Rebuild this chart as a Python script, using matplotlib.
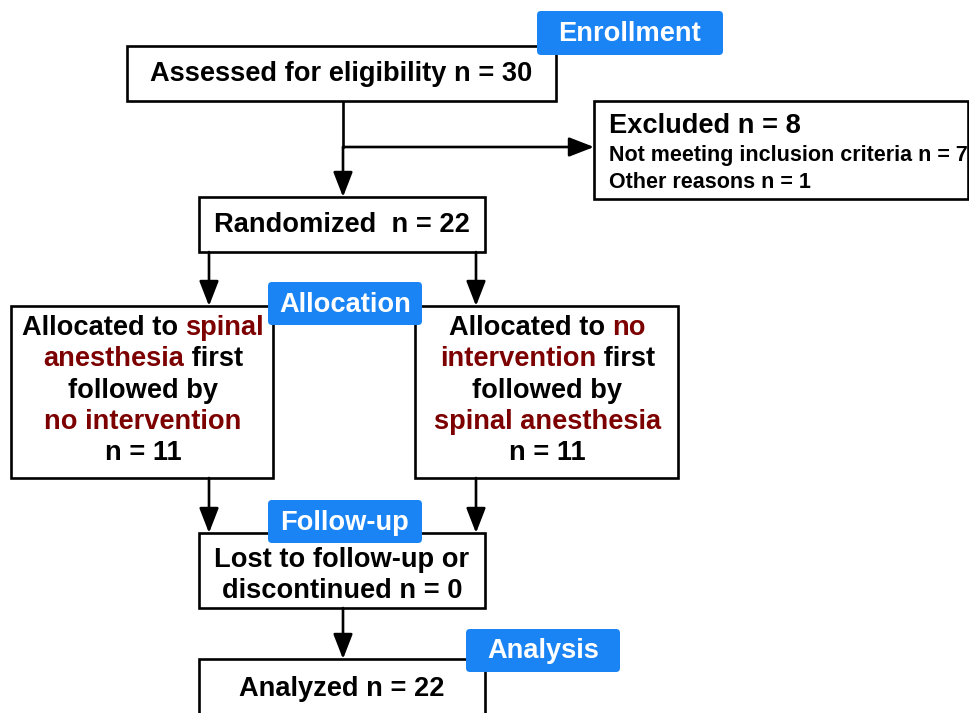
import matplotlib.pyplot as plt
from matplotlib.patches import Rectangle, FancyBboxPatch

plt.rcParams["font.family"] = ["Liberation Sans", "DejaVu Sans"]
plt.rcParams["font.weight"] = "bold"

STAGES = ["Enrollment", "Allocation", "Follow-up", "Analysis"]
ASSESSED = 30
EXCLUDED = 8
EXCLUSION_REASONS = ["Not meeting inclusion criteria", "Other reasons"]
EXCLUSION_COUNTS = [7, 1]
RANDOMIZED = 22
ARM_FIRST = ["spinal anesthesia", "no intervention"]
ARM_SECOND = ["no intervention", "spinal anesthesia"]
ARM_COUNTS = [11, 11]
LOST = 0
ANALYZED = 22

BLUE = "#1a84f5"
DARK_RED = "#7d0000"
LW = 1.9
FS = 19.6
FS_SMALL = 15.5


def box(ax, x0, y0, x1, y1):
    ax.add_patch(Rectangle((x0, y0), x1 - x0, y1 - y0, fill=True,
                           facecolor="white", edgecolor="black", lw=LW, zorder=2))


def badge(ax, x0, y0, x1, y1, label):
    ax.add_patch(FancyBboxPatch((x0, y0), x1 - x0, y1 - y0,
                                boxstyle="round,pad=0,rounding_size=4",
                                facecolor=BLUE, edgecolor="none", zorder=5))
    ax.text((x0 + x1) / 2, (y0 + y1) / 2 + 1, label, color="white", fontsize=FS,
            ha="center", va="center", zorder=6)


def arrow(ax, x0, y0, x1, y1):
    ax.annotate("", xy=(x1, y1), xytext=(x0, y0),
                arrowprops=dict(arrowstyle="-|>,head_length=0.85,head_width=0.33",
                                mutation_scale=18, lw=LW, color="black",
                                shrinkA=0, shrinkB=0), zorder=3)


def text_width(ax, s, size):
    renderer = ax.figure.canvas.get_renderer()
    t = ax.text(0, 0, s + "|", fontsize=size)
    w = t.get_window_extent(renderer).width
    t.remove()
    t = ax.text(0, 0, "|", fontsize=size)
    w -= t.get_window_extent(renderer).width
    t.remove()
    return w


def colored_line(ax, cx, y, segments, size=FS):
    full = "".join(s for s, _ in segments)
    total = text_width(ax, full, size)
    x = cx - total / 2
    prefix = ""
    for s, color in segments:
        ax.text(x + text_width(ax, prefix, size) if prefix else x, y, s,
                color=color, fontsize=size, ha="left", va="center", zorder=4)
        prefix += s


fig = plt.figure(figsize=(9.69, 7.13), dpi=100)
ax = fig.add_axes([0, 0, 1, 1])
ax.set_xlim(0, 969)
ax.set_ylim(713, 0)
ax.axis("off")

# enrollment
box(ax, 127, 46, 556, 101)
ax.text(341, 74, f"Assessed for eligibility n = {ASSESSED}", fontsize=FS,
        ha="center", va="center", zorder=4)
badge(ax, 537, 11, 723, 55, STAGES[0])

box(ax, 594, 101, 968, 199)
ax.text(609, 126, f"Excluded n = {EXCLUDED}", fontsize=FS, ha="left",
        va="center", zorder=4)
for i, (reason, n) in enumerate(zip(EXCLUSION_REASONS, EXCLUSION_COUNTS)):
    ax.text(609, 156 + 26 * i, f"{reason} n = {n}", fontsize=FS_SMALL,
            ha="left", va="center", zorder=4)

ax.plot([343, 343], [101, 147], color="black", lw=LW, zorder=1)
arrow(ax, 343, 147, 343, 197)
arrow(ax, 343, 147, 594, 147)

# randomization
box(ax, 199, 197, 485, 252)
ax.text(342, 225, f"Randomized  n = {RANDOMIZED}", fontsize=FS,
        ha="center", va="center", zorder=4)
arrow(ax, 209, 252, 209, 306)
arrow(ax, 476, 252, 476, 306)

# allocation
for (x0, x1), first, second, n in zip([(11, 273), (415, 678)], ARM_FIRST,
                                      ARM_SECOND, ARM_COUNTS):
    box(ax, x0, 306, x1, 478)
    cx = (x0 + x1) / 2 + 1
    head, tail = first.split(" ", 1)
    lines = [
        [("Allocated to ", "black"), (head, DARK_RED)],
        [(tail, DARK_RED), (" first", "black")],
        [("followed by", "black")],
        [(second, DARK_RED)],
        [(f"n = {n}", "black")],
    ]
    for i, segs in enumerate(lines):
        colored_line(ax, cx, 328 + 31.3 * i, segs)
badge(ax, 268, 282, 422, 325, STAGES[1])

# follow-up
arrow(ax, 209, 478, 209, 533)
arrow(ax, 476, 478, 476, 533)
box(ax, 199, 533, 485, 608)
ax.text(342, 560, "Lost to follow-up or", fontsize=FS, ha="center",
        va="center", zorder=4)
ax.text(342, 591, f"discontinued n = {LOST}", fontsize=FS, ha="center",
        va="center", zorder=4)
badge(ax, 268, 500, 422, 543, STAGES[2])

# analysis
arrow(ax, 343, 608, 343, 659)
box(ax, 199, 659, 485, 730)
ax.text(342, 689, f"Analyzed n = {ANALYZED}", fontsize=FS, ha="center",
        va="center", zorder=4)
badge(ax, 466, 629, 620, 672, STAGES[3])

fig.savefig("out.png", dpi=100)
